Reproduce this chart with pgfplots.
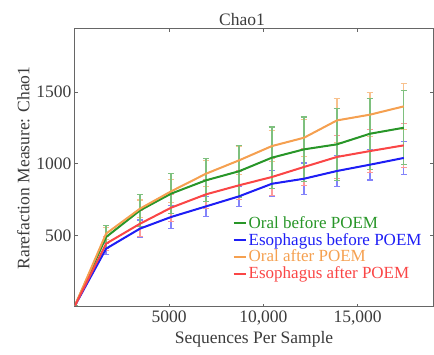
\documentclass[border=0pt]{standalone}
\usepackage{fontspec}
\setmainfont{Liberation Serif}
\usepackage{pgfplots}
\pgfplotsset{compat=1.18}
\usepackage{pgfplotstable}
\definecolor{cgreen}{RGB}{40,150,40}
\definecolor{cblue}{RGB}{30,30,245}
\definecolor{corange}{RGB}{245,160,80}
\definecolor{cred}{RGB}{250,70,70}
\definecolor{ctext}{RGB}{60,60,60}
\pgfplotstableread{
x y e
0 10 0
1650 488 80
3450 674 112
5100 791 140
6950 884 150
8700 947 180
10450 1042 214
12150 1100 226
13900 1135 250
15650 1209 248
17450 1251 258
}\oralbefore
\pgfplotstableread{
x y e
0 10 0
1650 512 40
3450 686 60
5100 807 80
6950 930 90
8700 1023 100
10450 1123 110
12150 1181 130
13900 1302 153
15650 1342 155
17450 1400 160
}\oralafter
\pgfplotstableread{
x y e
0 10 0
1650 442 50
3450 581 90
5100 693 95
6950 786 100
8700 849 100
10450 907 130
12150 977 130
13900 1047 150
15650 1088 150
17450 1128 153
}\esoafter
\pgfplotstableread{
x y e
0 10 0
1650 407 40
3450 547 60
5100 628 80
6950 702 70
8700 772 70
10450 860 90
12150 895 110
13900 949 110
15650 993 107
17450 1040 113
}\esobefore
\begin{document}
\begin{tikzpicture}
\begin{axis}[
  name=ax,
  scale only axis,
  width=358pt, height=278pt,
  xmin=0, xmax=19000, ymin=0, ymax=1940,
  font=\fontsize{17.5}{19}\selectfont,
  xtick={5000,10000,15000},
  xticklabels={5000,{10,000},{15,000}},
  ytick={500,1000,1500},
  yticklabels={500,1000,1500},
  scaled ticks=false,
  tick align=inside,
  major tick length=3pt,
  tick style={color=black!60, line width=0.8pt},
  axis line style={color=black!60, line width=1pt},
  ticklabel style={text=ctext},
  title={Chao1},
  title style={text=ctext, yshift=-6pt, xshift=-12pt},
  xlabel={Sequences Per Sample},
  ylabel={Rarefaction Measure: Chao1},
  label style={text=ctext},
  legend style={draw=none, fill=none, at={(0.44,0.335)}, anchor=north west,
    font=\fontsize{17}{17}\selectfont, inner sep=0pt, row sep=-0.5pt},
  legend cell align=left,
  legend image code/.code={\draw[#1, line width=2pt] (0pt,0pt) -- (12pt,0pt);},
  eb/.style={forget plot, mark=none, line width=1pt, color=#1,
    error bars/.cd, y dir=both, y explicit,
    error bar style={line width=1.4pt, color=#1},
    error mark options={rotate=90, line width=1.2pt, mark size=3.2pt, color=#1}},
]
% error bars
\addplot[eb=cblue!55] table[x=x, y=y, y error=e]{\esobefore};
\addplot[eb=cred!55] table[x=x, y=y, y error=e]{\esoafter};
\addplot[eb=corange!65] table[x=x, y=y, y error=e]{\oralafter};
\addplot[eb=cgreen!60] table[x=x, y=y, y error=e]{\oralbefore};
% lines
\addplot[cgreen, no marks, line width=2pt] table[x=x, y=y]{\oralbefore};
\addlegendentry{\textcolor{cgreen}{Oral before POEM}}
\addplot[cblue, no marks, line width=2pt] table[x=x, y=y]{\esobefore};
\addlegendentry{\textcolor{cblue}{Esophagus before POEM}}
\addplot[corange, no marks, line width=2pt] table[x=x, y=y]{\oralafter};
\addlegendentry{\textcolor{corange}{Oral after POEM}}
\addplot[cred, no marks, line width=2pt] table[x=x, y=y]{\esoafter};
\addlegendentry{\textcolor{cred}{Esophagus after POEM}}
\end{axis}
\pgfresetboundingbox
\path ([xshift=-75pt, yshift=-48pt]ax.south west) rectangle ([xshift=1pt, yshift=29pt]ax.north east);
\end{tikzpicture}
\end{document}
